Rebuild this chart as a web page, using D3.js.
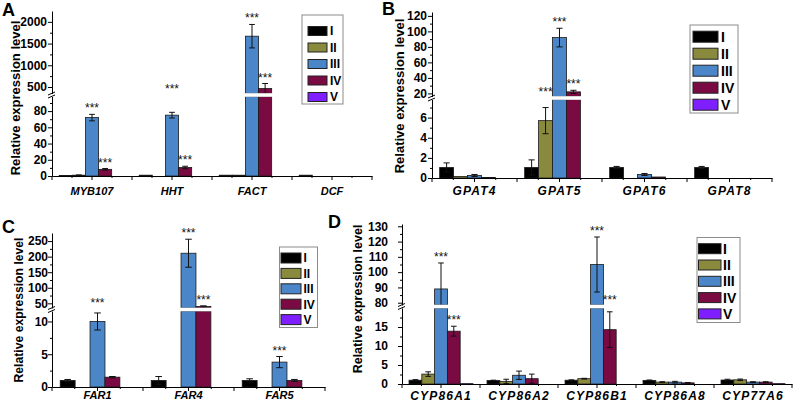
<!DOCTYPE html>
<html><head><meta charset="utf-8">
<script src="https://cdn.jsdelivr.net/npm/d3@7"></script>
<style>body{margin:0;background:#fff}svg{display:block}text{font-family:"Liberation Sans",Arial,sans-serif}</style>
</head><body><svg id="c" width="797" height="404"></svg>
<script>
// ---------- data ----------
const seriesNames = ["I","II","III","IV","V"];
const colors = ["#000000","#8a8a3e","#4b86c8","#7a0a42","#7f1fff"];

const genesA = ["MYB107","HHT","FACT","DCF"];
const valuesA = [[0.6,1.0,1.0,1.0],[1.0,0,1.0,0],[72,75,1670,0],[8.2,10.5,465,0],[0,0,0,0]];
const errorsA = [[0,0,0,0],[0.3,0,0,0],[4,3.5,270,0],[1,1.5,115,0],[0,0,0,0]];
const starsA = [["MYB107","III"],["MYB107","IV"],["HHT","III"],["HHT","IV"],["FACT","III"],["FACT","IV"]];
const lowDomA = [0,98], upDomA = [350,2250];
const lowTicksA = [0,20,40,60,80], upTicksA = [500,1000,1500,2000];
const lowMinorA = [10,30,50,70,90], upMinorA = [750,1250,1750];

const genesB = ["GPAT4","GPAT5","GPAT6","GPAT8"];
const valuesB = [[1.05,1.05,1.05,1.05],[0.15,5.7,0,0],[0.25,92,0.35,0],[0.05,22,0.1,0],[0,0,0,0]];
const errorsB = [[0.45,0.75,0.1,0.1],[0,1.3,0,0],[0.1,12,0.1,0],[0,2,0,0],[0,0,0,0]];
const starsB = [["GPAT5","II"],["GPAT5","III"],["GPAT5","IV"]];
const lowDomB = [0,7.8], upDomB = [16,125];
const lowTicksB = [0,2,4,6], upTicksB = [20,40,60,80,100,120];
const lowMinorB = [1,3,5,7], upMinorB = [30,50,70,90,110];

const genesC = ["FAR1","FAR4","FAR5"];
const valuesC = [[1.0,1.0,1.0],[0,0,0],[10,211,3.8],[1.5,40,1.0],[0,0,0]];
const errorsC = [[0.15,0.6,0.25],[0,0,0],[1.3,45,0.85],[0.1,2,0.15],[0,0,0]];
const starsC = [["FAR1","III"],["FAR4","III"],["FAR4","IV"],["FAR5","III"]];
const lowDomC = [0,11.6], upDomC = [35,276];
const lowTicksC = [0,5,10], upTicksC = [50,100,150,200,250];
const lowMinorC = [2.5,7.5], upMinorC = [75,125,175,225];

const genesD = ["CYP86A1","CYP86A2","CYP86B1","CYP86A8","CYP77A6"];
const valuesD = [[1.0,0.9,1.0,0.95,1.05],[2.6,0.7,1.4,0.5,1.1],[89,2.3,105,0.5,0.5],[13.9,1.4,14.3,0.3,0.5],[0.1,0,0,0,0.1]];
const errorsD = [[0.15,0.1,0.1,0.1,0.2],[0.6,0.55,0.1,0.1,0.2],[17,1.1,18,0.2,0.1],[1.3,1.2,4.7,0.1,0.1],[0,0,0,0,0]];
const starsD = [["CYP86A1","III"],["CYP86A1","IV"],["CYP86B1","III"],["CYP86B1","IV"]];
const lowDomD = [0,20], upDomD = [78.5,131.5];
const lowTicksD = [0,5,10,15], upTicksD = [80,90,100,110,120,130];
const lowMinorD = [2.5,7.5,12.5,17.5], upMinorD = [85,95,105,115,125];

const yTitle = "Relative expression level";

// ---------- drawing ----------
const svg = d3.select("#c");

function drawPanel(p) {
  const g = svg.append("g");
  const x = d3.scaleBand().domain(p.cats).range([p.x0, p.x1]);
  const xs = d3.scaleBand().domain(seriesNames).range([0, x.bandwidth()]).paddingInner(0).paddingOuter(0.55);
  const yL = d3.scaleLinear().domain(p.lowDom).range([p.y0, p.lowTop]);
  const yU = d3.scaleLinear().domain(p.upDom).range([p.upBot, p.top]);
  const recs = [];
  p.cats.forEach((c, ci) => seriesNames.forEach((s, si) =>
    recs.push({c, s, si, v: p.values[si][ci], e: p.errors[si][ci]})));
  const segs = [];
  recs.forEach(r => {
    if (r.v > 0) segs.push({r, y: yL, a: 0, b: Math.min(r.v, p.lowDom[1])});
    if (r.v > p.upDom[0]) segs.push({r, y: yU, a: p.upDom[0], b: Math.min(r.v, p.upDom[1])});
  });
  g.append("g").selectAll("rect").data(segs).join("rect")
    .attr("x", d => x(d.r.c) + xs(d.r.s))
    .attr("width", xs.bandwidth())
    .attr("y", d => d.y(d.b))
    .attr("height", d => Math.max(0, d.y(d.a) - d.y(d.b)))
    .attr("fill", d => colors[d.r.si])
    .attr("stroke", "#1a1a1a").attr("stroke-width", 0.8);

  // error bars
  const segDefs = [{y: yL, a: p.lowDom[0], b: p.lowDom[1]}, {y: yU, a: p.upDom[0], b: p.upDom[1]}];
  const eg = g.append("g").attr("stroke", "#111").attr("stroke-width", 1);
  const cw = xs.bandwidth() * 0.22;
  recs.filter(r => r.e > 0).forEach(r => {
    const cx = x(r.c) + xs(r.s) + xs.bandwidth() / 2;
    segDefs.forEach(sd => {
      const lo = Math.max(r.v - r.e, sd.a), hi = Math.min(r.v + r.e, sd.b);
      if (lo < hi) eg.append("line").attr("x1", cx).attr("x2", cx).attr("y1", sd.y(lo)).attr("y2", sd.y(hi));
      [r.v - r.e, r.v + r.e].forEach(t => {
        if (t >= sd.a && t <= sd.b && t > 0)
          eg.append("line").attr("x1", cx - cw).attr("x2", cx + cw).attr("y1", sd.y(t)).attr("y2", sd.y(t));
      });
    });
  });

  // break stripe
  g.append("rect").attr("x", p.x0 + 1).attr("width", p.x1 - p.x0 - 1)
    .attr("y", p.upBot - 0.3).attr("height", p.lowTop - p.upBot + 0.6).attr("fill", "#fff");

  // y axes
  const mkAxis = (sc, ticks, minor) => {
    const a = g.append("g").attr("transform", `translate(${p.x0},0)`)
      .call(d3.axisLeft(sc).tickValues(ticks).tickFormat(d => String(d)).tickSize(4).tickSizeOuter(0).tickPadding(p.tp));
    a.select(".domain").attr("stroke", "#000");
    a.selectAll(".tick line").attr("stroke", "#000");
    a.selectAll("text").attr("font-size", p.tfs).attr("font-weight", "bold").attr("fill", "#000");
    const m = g.append("g").attr("transform", `translate(${p.x0},0)`)
      .call(d3.axisLeft(sc).tickValues(minor).tickSize(2).tickFormat(""));
    m.select(".domain").remove();
    m.selectAll(".tick line").attr("stroke", "#000");
  };
  mkAxis(yL, p.lowTicks, p.lowMinor);
  mkAxis(yU, p.upTicks, p.upMinor);
  // break marks
  [p.upBot, p.lowTop].forEach(yy => {
    g.append("line").attr("x1", p.x0 - 4).attr("x2", p.x0 + 3).attr("y1", yy + 1.5).attr("y2", yy - 1.5)
      .attr("stroke", "#000").attr("stroke-width", 1);
  });

  // x axis
  const xa = g.append("g").attr("transform", `translate(0,${p.y0})`)
    .call(d3.axisBottom(x).tickSize(4).tickSizeOuter(0));
  xa.select(".domain").attr("stroke", "#000");
  xa.selectAll(".tick line").attr("stroke", "#000");
  xa.selectAll("text").attr("y", p.xlb - p.y0).attr("dy", 0)
    .attr("font-size", p.xfs).attr("font-weight", "bold").attr("font-style", "italic")
    .attr("letter-spacing", p.xls).attr("fill", "#000");
  const bw = x.bandwidth();
  const bounds = d3.range(p.cats.length + 1).map(i => p.x0 + i * bw);
  g.append("g").selectAll("line").data(bounds).join("line")
    .attr("x1", d => d).attr("x2", d => d).attr("y1", p.y0).attr("y2", p.y0 + 4).attr("stroke", "#000");
  const quarters = d3.range(p.cats.length * 2).map(i => p.x0 + (i + 0.5) * bw / 2);
  g.append("g").selectAll("line").data(quarters).join("line")
    .attr("x1", d => d).attr("x2", d => d).attr("y1", p.y0).attr("y2", p.y0 + 2).attr("stroke", "#000");

  // stars
  p.stars.forEach(([c, s]) => {
    const si = seriesNames.indexOf(s), ci = p.cats.indexOf(c);
    const v = p.values[si][ci], e = p.errors[si][ci];
    const top = v + e;
    let cy;
    if (top <= p.lowDom[1]) {
      const py = yL(top);
      cy = (py - p.lowTop < 16) ? p.upBot - 8 : py - 9;
    } else cy = yU(Math.min(top, p.upDom[1])) - 9;
    g.append("text").attr("x", x(c) + xs(s) + xs.bandwidth() / 2).attr("y", cy + 7)
      .attr("text-anchor", "middle").attr("font-size", 12).attr("fill", "#111").text("***");
  });

  // y title
  g.append("text").attr("transform", `translate(${p.ylx},${p.ylcy}) rotate(-90)`)
    .attr("text-anchor", "middle").attr("font-size", p.yfs).attr("font-weight", "bold").text(yTitle);
  // panel letter
  g.append("text").attr("x", p.lx).attr("y", p.ly).attr("font-size", 18).attr("font-weight", "bold").text(p.letter);

  // legend
  const L = p.leg;
  g.append("rect").attr("x", L.x).attr("y", L.y).attr("width", L.w).attr("height", L.h)
    .attr("fill", "#fff").attr("stroke", "#8c8c8c").attr("stroke-width", 1);
  const li = g.append("g").selectAll("g").data(seriesNames).join("g")
    .attr("transform", (d, i) => `translate(0,${L.r0 + i * L.dr})`);
  li.append("rect").attr("x", L.sx).attr("y", -L.sh / 2).attr("width", L.sw).attr("height", L.sh)
    .attr("fill", (d, i) => colors[i]).attr("stroke", "#222").attr("stroke-width", 1);
  li.append("text").attr("x", L.tx).attr("y", L.fs * 0.36).attr("font-size", L.fs).attr("font-weight", "bold").text(d => d);
}

drawPanel({letter: "A", lx: 2, ly: 16, cats: genesA, values: valuesA, errors: errorsA, stars: starsA,
  lowDom: lowDomA, upDom: upDomA, lowTicks: lowTicksA, upTicks: upTicksA, lowMinor: lowMinorA, upMinor: upMinorA,
  x0: 52, x1: 372, y0: 176, lowTop: 96.5, upBot: 93.5, top: 11, tp: 1, tfs: 12,
  xlb: 195, xfs: 11, xls: 0, ylx: 20, ylcy: 98, yfs: 13,
  leg: {x: 302, y: 15, w: 41, h: 89, r0: 31, dr: 16.5, sx: 308, sw: 19, sh: 9, tx: 330, fs: 12}});

drawPanel({letter: "B", lx: 382, ly: 15, cats: genesB, values: valuesB, errors: errorsB, stars: starsB,
  lowDom: lowDomB, upDom: upDomB, lowTicks: lowTicksB, upTicks: upTicksB, lowMinor: lowMinorB, upMinor: upMinorB,
  x0: 432, x1: 772, y0: 178, lowTop: 99.5, upBot: 96.5, top: 12, tp: 1, tfs: 12,
  xlb: 195, xfs: 12, xls: 1.2, ylx: 404, ylcy: 96, yfs: 13,
  leg: {x: 690, y: 25, w: 48, h: 88, r0: 36.7, dr: 17, sx: 693, sw: 25, sh: 11, tx: 721, fs: 14}});

drawPanel({letter: "C", lx: 2, ly: 233, cats: genesC, values: valuesC, errors: errorsC, stars: starsC,
  lowDom: lowDomC, upDom: upDomC, lowTicks: lowTicksC, upTicks: upTicksC, lowMinor: lowMinorC, upMinor: upMinorC,
  x0: 52, x1: 325, y0: 387, lowTop: 311, upBot: 308, top: 233, tp: 0, tfs: 12,
  xlb: 399, xfs: 11, xls: 0, ylx: 23, ylcy: 310, yfs: 12.2,
  leg: {x: 279.5, y: 247, w: 38, h: 80.5, r0: 258, dr: 15.4, sx: 281, sw: 20, sh: 10, tx: 303.5, fs: 12}});

drawPanel({letter: "D", lx: 328, ly: 228, cats: genesD, values: valuesD, errors: errorsD, stars: starsD,
  lowDom: lowDomD, upDom: upDomD, lowTicks: lowTicksD, upTicks: upTicksD, lowMinor: lowMinorD, upMinor: upMinorD,
  x0: 402, x1: 792, y0: 384, lowTop: 308, upBot: 305, top: 224, tp: 10, tfs: 12,
  xlb: 400, xfs: 12, xls: 1.2, ylx: 362, ylcy: 299, yfs: 12.5,
  leg: {x: 697, y: 237.5, w: 43, h: 85, r0: 248.7, dr: 16.3, sx: 698.5, sw: 22.5, sh: 10, tx: 723, fs: 14}});
</script></body></html>
